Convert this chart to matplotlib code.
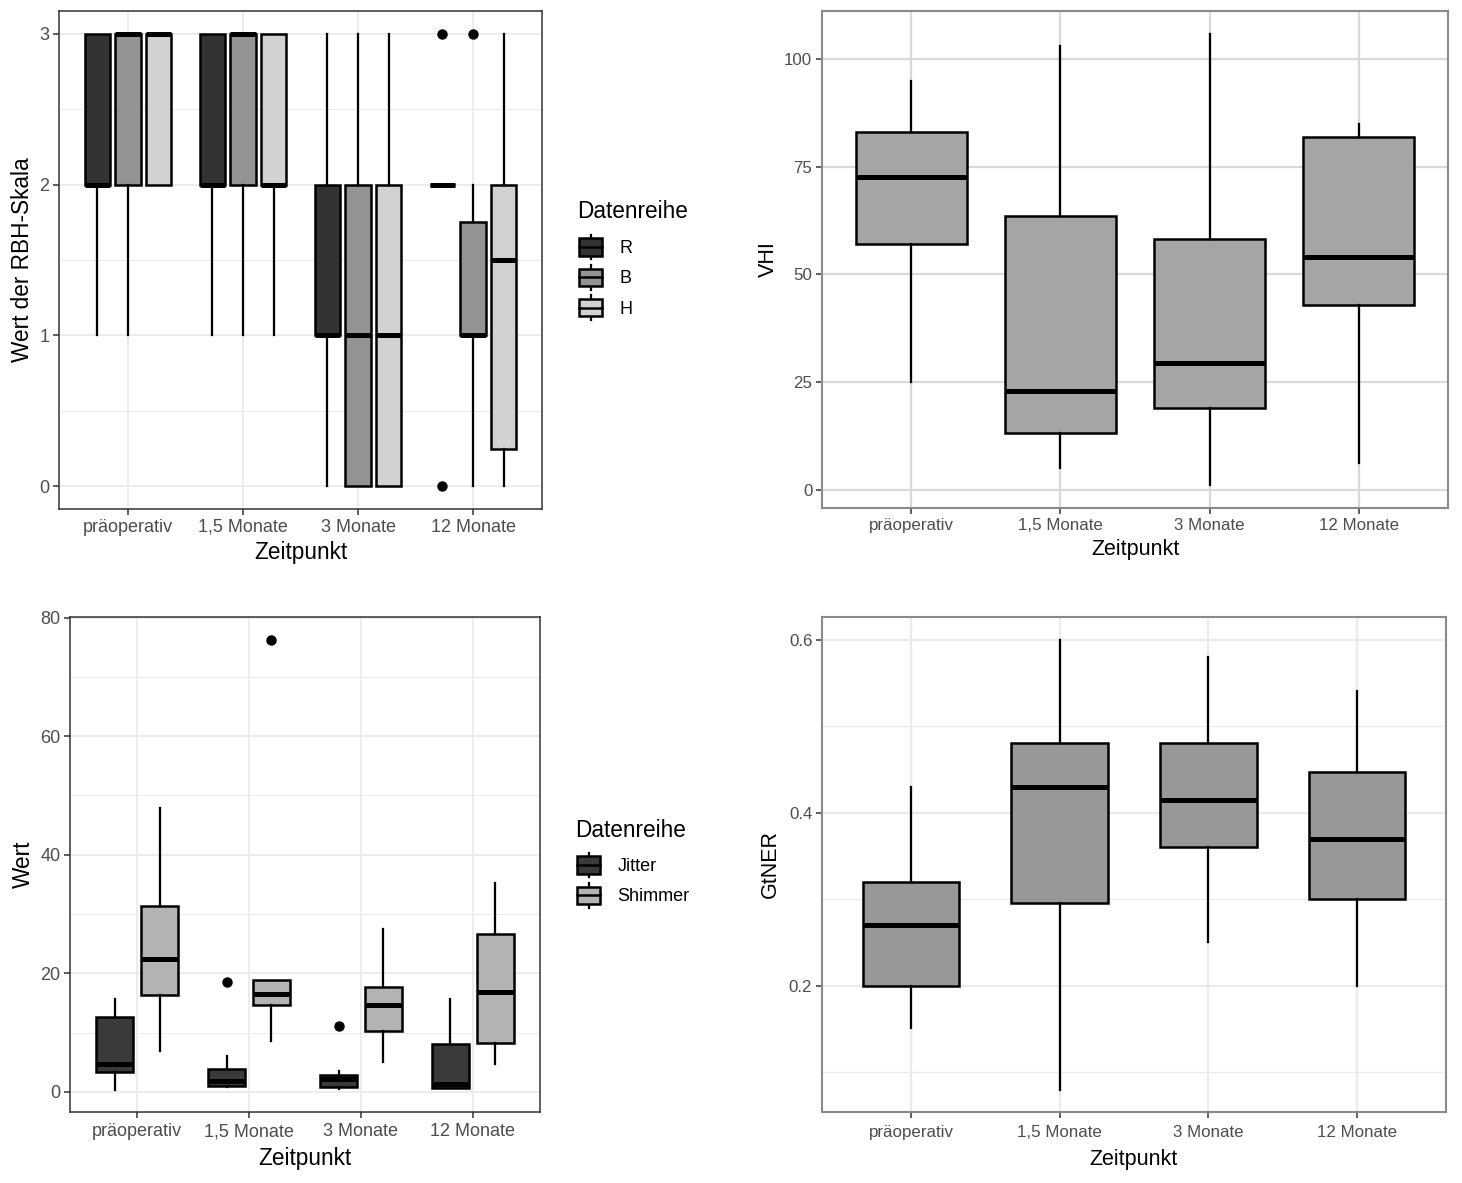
import matplotlib
matplotlib.use("Agg")
import matplotlib.pyplot as plt
from matplotlib.patches import Rectangle, Patch
from matplotlib.lines import Line2D
from matplotlib.legend_handler import HandlerBase
import numpy as np

plt.rcParams['font.family'] = ['Liberation Sans', 'DejaVu Sans']

# ---------------- data ----------------
categories = ['präoperativ', '1,5 Monate', '3 Monate', '12 Monate']

# RBH scale (top left): series R, B, H
rbh_series = ['R', 'B', 'H']
rbh_whislo = {'R': [1, 1, 0, 2], 'B': [1, 1, 0, 0], 'H': [2, 1, 0, 0]}
rbh_q1 = {'R': [2, 2, 1, 2], 'B': [2, 2, 0, 1], 'H': [2, 2, 0, 0.25]}
rbh_med = {'R': [2, 2, 1, 2], 'B': [3, 3, 1, 1], 'H': [3, 2, 1, 1.5]}
rbh_q3 = {'R': [3, 3, 2, 2], 'B': [3, 3, 2, 1.75], 'H': [3, 3, 2, 2]}
rbh_whishi = {'R': [3, 3, 3, 2], 'B': [3, 3, 3, 2], 'H': [3, 3, 3, 3]}
rbh_fliers = {'R': [[], [], [], [0, 3]], 'B': [[], [], [], [3]], 'H': [[], [], [], []]}

# Jitter / Shimmer (bottom left)
js_series = ['Jitter', 'Shimmer']
js_whislo = {'Jitter': [0.4, 0.9, 0.5, 0.7], 'Shimmer': [6.9, 8.5, 5.1, 4.75]}
js_q1 = {'Jitter': [3.3, 0.95, 0.9, 0.7], 'Shimmer': [16.4, 14.6, 10.2, 8.3]}
js_med = {'Jitter': [4.75, 1.75, 2.1, 1.25], 'Shimmer': [22.4, 16.5, 14.7, 16.9]}
js_q3 = {'Jitter': [12.7, 3.8, 2.9, 8.1], 'Shimmer': [31.4, 18.8, 17.7, 26.7]}
js_whishi = {'Jitter': [15.7, 6.0, 3.6, 15.7], 'Shimmer': [47.8, 18.8, 27.5, 35.2]}
js_fliers = {'Jitter': [[], [18.5], [11.1], []], 'Shimmer': [[], [76.3], [], []]}

# VHI (top right)
vhi_whislo = [25.1, 5.1, 1.0, 6.1]
vhi_q1 = [57.0, 13.2, 19.0, 43.0]
vhi_med = [72.6, 23.0, 29.5, 54.0]
vhi_q3 = [83.0, 63.5, 58.2, 82.0]
vhi_whishi = [94.9, 103.0, 105.9, 85.0]

# GtNER (bottom right)
gt_whislo = [0.151, 0.080, 0.251, 0.20]
gt_q1 = [0.20, 0.295, 0.36, 0.30]
gt_med = [0.27, 0.43, 0.415, 0.37]
gt_q3 = [0.32, 0.48, 0.48, 0.447]
gt_whishi = [0.43, 0.60, 0.58, 0.54]

# ---------------- styling ----------------
W, H = 1462, 1183
fig = plt.figure(figsize=(W / 100, H / 100), dpi=100)

def add_ax(left, right, top, bottom):
    return fig.add_axes([left / W, 1 - bottom / H, (right - left) / W, (bottom - top) / H])

def make_stats(wl, q1, med, q3, wh, fl=None):
    out = []
    for i in range(len(wl)):
        out.append(dict(whislo=wl[i], q1=q1[i], med=med[i], q3=q3[i], whishi=wh[i],
                        fliers=(fl[i] if fl is not None else [])))
    return out

def draw_boxes(ax, stats, positions, width, fc, lw=1.8, mlw=3.6):
    ax.bxp(stats, positions=positions, widths=width, patch_artist=True, showcaps=False,
           manage_ticks=False,
           boxprops=dict(facecolor=fc, edgecolor='black', linewidth=lw),
           medianprops=dict(color='black', linewidth=mlw, solid_capstyle='butt'),
           whiskerprops=dict(color='black', linewidth=lw * 0.9),
           flierprops=dict(marker='o', markerfacecolor='black', markeredgecolor='black',
                           markersize=6.5, linestyle='none'))

def style_ax(ax, yticks, yminor, vals, xlabel, ylabel, grid_col='#ebebeb', border_col='#333333',
             border_lw=1.1, glw=1.3, tick_fs=13, title_fs=16.3, ylabelpad=4, xlabelpad=3.5,
             xpad=3):
    lo, hi = min(vals), max(vals)
    r = hi - lo
    ax.set_ylim(lo - 0.05 * r, hi + 0.05 * r)
    n = len(categories)
    ax.set_xlim(0.4, n + 0.6)
    ax.set_xticks(np.arange(1, n + 1))
    ax.set_xticklabels(categories)
    ax.set_yticks(yticks)
    ax.set_yticklabels([('%g' % t) for t in yticks])
    ax.set_yticks(yminor, minor=True)
    ax.tick_params(axis='both', which='major', length=4, width=1.1, color='#333333',
                   labelcolor='#4d4d4d', labelsize=tick_fs, pad=3)
    ax.tick_params(axis='x', which='major', pad=xpad)
    ax.tick_params(axis='y', which='minor', length=0)
    ax.grid(True, which='major', color=grid_col, linewidth=glw)
    ax.grid(True, which='minor', axis='y', color=grid_col, linewidth=glw * 0.55)
    ax.set_axisbelow(True)
    for s in ax.spines.values():
        s.set_color(border_col)
        s.set_linewidth(border_lw)
    ax.set_xlabel(xlabel, fontsize=title_fs, labelpad=xlabelpad)
    ax.set_ylabel(ylabel, fontsize=title_fs, labelpad=ylabelpad)

class BoxKey(HandlerBase):
    def create_artists(self, legend, orig_handle, xdescent, ydescent, width, height, fontsize, trans):
        x0, y0 = -xdescent, -ydescent
        fc = orig_handle.get_facecolor()
        cx = x0 + width / 2
        wl = Line2D([cx, cx], [y0, y0 + height], color='black', lw=1.6, transform=trans)
        rect = Rectangle((x0, y0 + height * 0.15), width, height * 0.70, facecolor=fc,
                         edgecolor='black', lw=1.8, transform=trans)
        md = Line2D([x0, x0 + width], [y0 + height / 2] * 2, color='black', lw=1.8, transform=trans)
        return [wl, rect, md]

def add_legend(ax, labels, colors, left_px, title_cy, keys_top):
    fig.text(left_px / W, 1 - title_cy / H, 'Datenreihe', fontsize=16.3, ha='left', va='center')
    handles = [Patch(facecolor=c, edgecolor='black') for c in colors]
    leg = ax.legend(handles, labels, loc='upper left',
                    bbox_to_anchor=((left_px + 2) / W, 1 - keys_top / H), bbox_transform=fig.transFigure,
                    frameon=False, borderpad=0, borderaxespad=0, handlelength=1.3,
                    handleheight=1.75, labelspacing=0.3, handletextpad=0.95,
                    fontsize=13, handler_map={Patch: BoxKey()})
    return leg

pos = np.arange(1, len(categories) + 1)

# ---------------- top left: RBH ----------------
ax1 = add_ax(59, 542, 11, 509)
rbh_colors = {'R': '#333333', 'B': '#939393', 'H': '#d2d2d2'}
offsets = {'R': -0.267, 'B': 0.0, 'H': 0.267}
allv = []
for s in rbh_series:
    st = make_stats(rbh_whislo[s], rbh_q1[s], rbh_med[s], rbh_q3[s], rbh_whishi[s], rbh_fliers[s])
    draw_boxes(ax1, st, pos + offsets[s], 0.22, rbh_colors[s])
    allv += rbh_whislo[s] + rbh_whishi[s] + sum(rbh_fliers[s], [])
style_ax(ax1, [0, 1, 2, 3], [0.5, 1.5, 2.5], allv, 'Zeitpunkt', 'Wert der RBH-Skala')
add_legend(ax1, rbh_series, [rbh_colors[s] for s in rbh_series], 577, 211.5, 234.5)

# ---------------- bottom left: Jitter / Shimmer ----------------
ax2 = add_ax(70, 540, 617, 1112)
js_colors = {'Jitter': '#3a3a3a', 'Shimmer': '#b3b3b3'}
js_off = {'Jitter': -0.2, 'Shimmer': 0.2}
allv = []
for s in js_series:
    st = make_stats(js_whislo[s], js_q1[s], js_med[s], js_q3[s], js_whishi[s], js_fliers[s])
    draw_boxes(ax2, st, pos + js_off[s], 0.33, js_colors[s])
    allv += js_whislo[s] + js_whishi[s] + sum(js_fliers[s], [])
style_ax(ax2, [0, 20, 40, 60, 80], [10, 30, 50, 70], allv, 'Zeitpunkt', 'Wert',
         xpad=4.2, xlabelpad=5)
add_legend(ax2, js_series, [js_colors[s] for s in js_series], 575, 830.5, 852.5)

# ---------------- top right: VHI ----------------
ax3 = add_ax(822, 1448, 11, 508)
st = make_stats(vhi_whislo, vhi_q1, vhi_med, vhi_q3, vhi_whishi)
draw_boxes(ax3, st, pos, 0.75, '#a5a5a5')
style_ax(ax3, [0, 25, 50, 75, 100], [], vhi_whislo + vhi_whishi, 'Zeitpunkt', 'VHI',
         grid_col='#d9d9d9', border_col='#8a8a8a', border_lw=1.5, glw=1.6,
         tick_fs=12.2, title_fs=15.5, ylabelpad=4, xpad=3.5, xlabelpad=4)

# ---------------- bottom right: GtNER ----------------
ax4 = add_ax(822, 1446, 617, 1112)
st = make_stats(gt_whislo, gt_q1, gt_med, gt_q3, gt_whishi)
draw_boxes(ax4, st, pos, 0.65, '#989898')
style_ax(ax4, [0.2, 0.4, 0.6], [0.1, 0.3, 0.5], gt_whislo + gt_whishi, 'Zeitpunkt', 'GtNER',
         grid_col='#ebebeb', border_col='#8a8a8a', border_lw=1.5, glw=1.6,
         tick_fs=12.2, title_fs=15.5, ylabelpad=6, xpad=5.5, xlabelpad=6)

fig.savefig('out.png', dpi=100)
